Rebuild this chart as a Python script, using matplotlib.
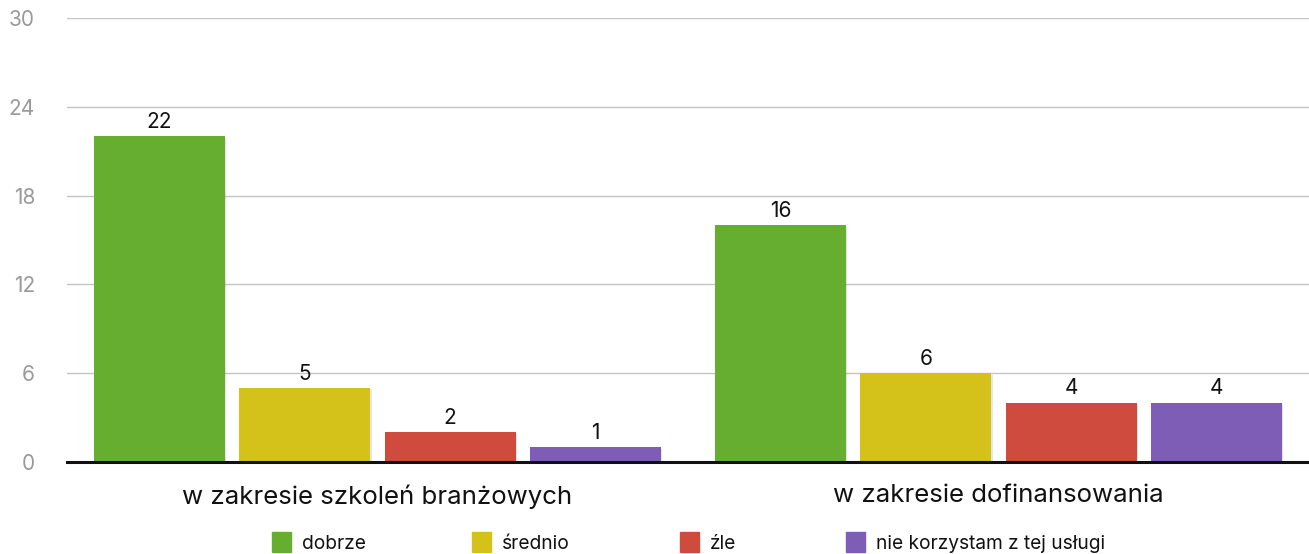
import numpy as np
import matplotlib
matplotlib.use("Agg")
import matplotlib.pyplot as plt
from matplotlib.patches import Rectangle
import matplotlib.patheffects as pe

plt.rcParams['font.family'] = ['Inter', 'DejaVu Sans']

# data
groups = ['w zakresie szkoleń branżowych', 'w zakresie dofinansowania']
series = ['dobrze', 'średnio', 'źle', 'nie korzystam z tej usługi']
values = [
    [22, 16],
    [5, 6],
    [2, 4],
    [1, 4],
]
colors = ['#66ae2f', '#d4c11a', '#cf4b3e', '#7e5db6']
yticks = [0, 6, 12, 18, 24, 30]

W, H = 1309, 554
fig = plt.figure(figsize=(W / 100, H / 100), dpi=100)
ax = fig.add_axes([67 / W, 92 / H, 1242 / W, 444 / H])

x = np.arange(len(groups))
step = 0.234
width = 0.211
shadow = [pe.SimplePatchShadow(offset=(1, -1), alpha=0.1, shadow_rgbFace='black'), pe.Normal()]
for i, (name, vals) in enumerate(zip(series, values)):
    pos = x + (i - 1.5) * step
    bars = ax.bar(pos, vals, width, color=colors[i], zorder=3, label=name)
    for b in bars:
        b.set_path_effects(shadow)
    for p, v in zip(pos, vals):
        ax.text(p, v + 0.3, str(v), ha='center', va='bottom', fontsize=15, color='#111111', zorder=4)

ax.set_xlim(-0.5, 1.5)
ax.set_ylim(0, 30)
ax.set_yticks(yticks)
ax.set_yticklabels([str(t) for t in yticks])
ax.yaxis.grid(True, color='#c4c4c4', linewidth=1.0, zorder=0)
ax.tick_params(axis='y', length=0, pad=23, labelsize=15, labelcolor='#9a9a9a')
ax.tick_params(axis='x', length=0)
ax.set_xticks(x)
ax.set_xticklabels(groups, fontsize=18.6, color='#111111')
ax.tick_params(axis='x', pad=16)
for s in ['top', 'right', 'left']:
    ax.spines[s].set_visible(False)
ax.spines['bottom'].set_linewidth(2.2)
ax.spines['bottom'].set_color('#111111')
ax.spines['bottom'].set_zorder(5)

# legend drawn by hand to match layout
leg_x = [272, 472, 680, 846]
for lx, name, c in zip(leg_x, series, colors):
    fig.patches.append(Rectangle((lx / W, 2 / H), 19 / W, 20 / H,
                                 transform=fig.transFigure, color=c))
    fig.text((lx + 30) / W, 10 / H, name, fontsize=13.8, color='#111111', va='center', ha='left')

fig.savefig('out.png', dpi=100)
